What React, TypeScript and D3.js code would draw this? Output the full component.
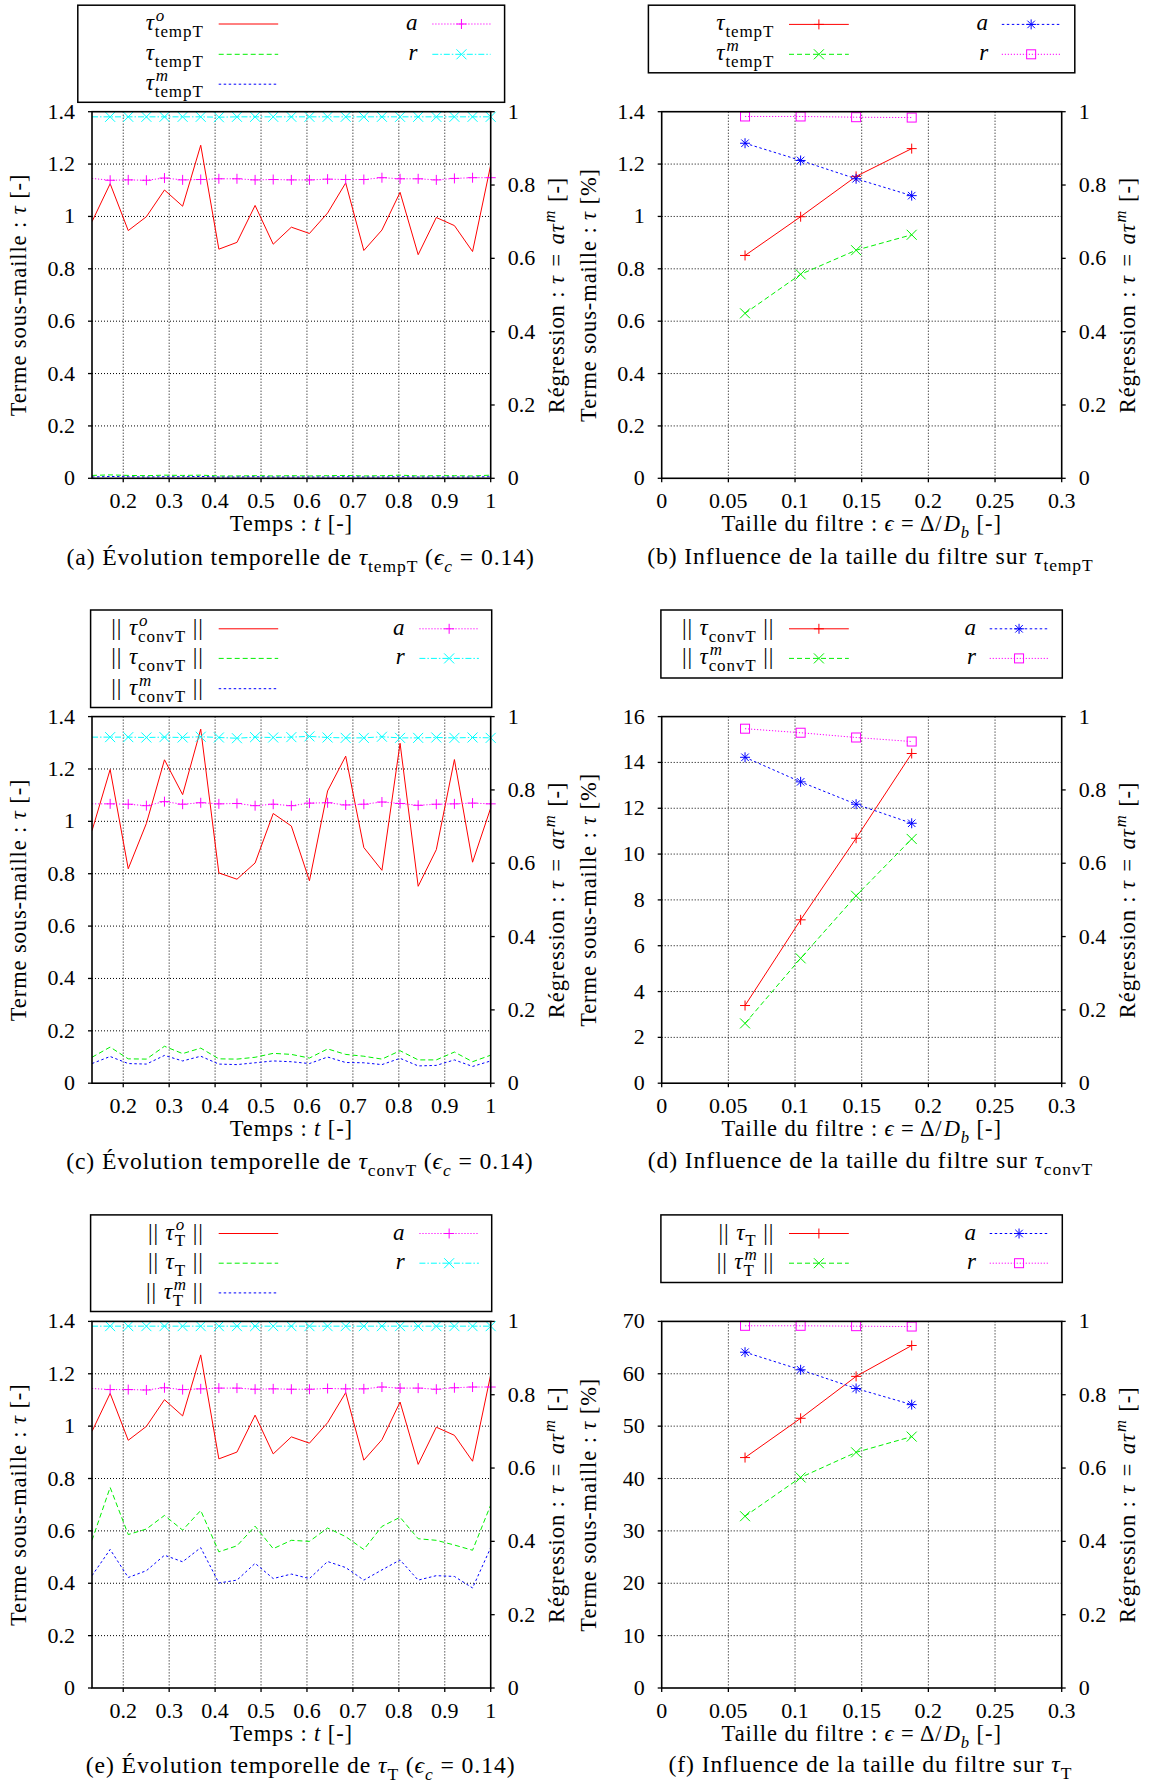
import React from 'react';
import * as d3 from 'd3';

const FONT = '"Liberation Serif","Times New Roman",serif';
const FS_LABEL = 22.5;
const FS_LEG = 23;
const FS_CAP = 23.7;
const FS_TICK = 22;
const SCRIPT = 0.74;
const LS = 0.9;

// ---------------- DATA ----------------
// time axis (panels a, c, e)
const TIME = [0.132, 0.1715, 0.2109, 0.2504, 0.2898, 0.3293, 0.3687, 0.4082, 0.4476, 0.4871, 0.5265, 0.566, 0.6054, 0.6449, 0.6843, 0.7238, 0.7632, 0.8027, 0.8421, 0.8816, 0.921, 0.9605, 1.0];
// panel (a)
const TEMPT_O = [0.98, 1.125, 0.946, 0.999, 1.101, 1.039, 1.272, 0.875, 0.901, 1.042, 0.894, 0.959, 0.935, 1.013, 1.128, 0.87, 0.948, 1.092, 0.854, 0.996, 0.965, 0.866, 1.196];
const TEMPT = [0.011, 0.013, 0.011, 0.01, 0.012, 0.011, 0.012, 0.009, 0.009, 0.01, 0.009, 0.01, 0.009, 0.01, 0.011, 0.009, 0.01, 0.012, 0.009, 0.01, 0.01, 0.009, 0.012];
const TEMPT_M = [0.005, 0.007, 0.006, 0.005, 0.006, 0.006, 0.007, 0.005, 0.005, 0.006, 0.005, 0.005, 0.005, 0.005, 0.006, 0.005, 0.005, 0.006, 0.005, 0.005, 0.005, 0.005, 0.006];
const TEMPT_A = [0.818, 0.813, 0.814, 0.813, 0.819, 0.814, 0.815, 0.817, 0.817, 0.814, 0.815, 0.814, 0.814, 0.816, 0.815, 0.815, 0.82, 0.817, 0.817, 0.814, 0.818, 0.82, 0.82];
const TEMPT_R = [0.986, 0.986, 0.986, 0.986, 0.986, 0.986, 0.986, 0.985, 0.986, 0.986, 0.986, 0.986, 0.986, 0.986, 0.986, 0.986, 0.986, 0.986, 0.986, 0.986, 0.986, 0.986, 0.986];
// panel (c)
const CONVT_O = [0.964, 1.198, 0.819, 0.992, 1.235, 1.102, 1.352, 0.803, 0.779, 0.841, 1.03, 0.982, 0.773, 1.116, 1.249, 0.9, 0.813, 1.298, 0.752, 0.892, 1.236, 0.844, 1.051];
const CONVT = [0.099, 0.138, 0.093, 0.092, 0.141, 0.113, 0.134, 0.093, 0.092, 0.099, 0.114, 0.11, 0.096, 0.131, 0.11, 0.103, 0.092, 0.124, 0.089, 0.089, 0.119, 0.082, 0.107];
const CONVT_M = [0.075, 0.102, 0.075, 0.073, 0.106, 0.085, 0.103, 0.073, 0.071, 0.078, 0.085, 0.082, 0.075, 0.1, 0.079, 0.078, 0.071, 0.095, 0.066, 0.068, 0.089, 0.064, 0.085];
const CONVT_A = [0.762, 0.762, 0.761, 0.757, 0.768, 0.761, 0.765, 0.762, 0.763, 0.757, 0.761, 0.757, 0.764, 0.765, 0.759, 0.761, 0.767, 0.763, 0.758, 0.761, 0.762, 0.764, 0.762];
const CONVT_R = [0.944, 0.944, 0.944, 0.943, 0.944, 0.943, 0.945, 0.943, 0.941, 0.944, 0.943, 0.944, 0.946, 0.943, 0.942, 0.942, 0.945, 0.942, 0.942, 0.943, 0.942, 0.943, 0.942];
// panel (e)
const T_O = [0.98, 1.125, 0.946, 0.999, 1.101, 1.039, 1.272, 0.875, 0.901, 1.042, 0.894, 0.959, 0.935, 1.013, 1.128, 0.87, 0.948, 1.092, 0.854, 0.996, 0.965, 0.866, 1.196];
const T_F = [0.564, 0.766, 0.586, 0.607, 0.659, 0.603, 0.678, 0.52, 0.543, 0.618, 0.532, 0.564, 0.56, 0.611, 0.578, 0.529, 0.617, 0.652, 0.57, 0.564, 0.546, 0.526, 0.699];
const T_M = [0.429, 0.529, 0.422, 0.448, 0.507, 0.482, 0.536, 0.401, 0.412, 0.476, 0.418, 0.435, 0.418, 0.483, 0.46, 0.412, 0.451, 0.489, 0.412, 0.429, 0.426, 0.382, 0.536];
const T_A = [0.817, 0.814, 0.814, 0.813, 0.819, 0.814, 0.816, 0.818, 0.818, 0.815, 0.816, 0.815, 0.815, 0.817, 0.816, 0.816, 0.821, 0.818, 0.818, 0.815, 0.819, 0.821, 0.821];
const T_R = [0.987, 0.987, 0.987, 0.987, 0.987, 0.987, 0.987, 0.987, 0.987, 0.987, 0.987, 0.987, 0.987, 0.987, 0.987, 0.987, 0.987, 0.987, 0.987, 0.987, 0.987, 0.987, 0.987];
// filter-size axis (panels b, d, f)
const EPS = [0.0625, 0.1042, 0.1458, 0.1875];
const B_TAU = [0.851, 0.999, 1.153, 1.259];
const B_TAU_M = [0.63, 0.779, 0.871, 0.93];
const B_A = [0.914, 0.867, 0.817, 0.771];
const B_R = [0.987, 0.987, 0.985, 0.984];
const D_TAU = [3.39, 7.13, 10.69, 14.39];
const D_TAU_M = [2.61, 5.45, 8.18, 10.66];
const D_A = [0.889, 0.822, 0.761, 0.709];
const D_R = [0.967, 0.956, 0.943, 0.932];
const F_TAU = [44.0, 51.5, 59.5, 65.4];
const F_TAU_M = [32.8, 40.2, 45.0, 48.0];
const F_A = [0.916, 0.868, 0.817, 0.773];
const F_R = [0.988, 0.988, 0.987, 0.986];
// ticks
const TIME_TICKS = [0.2, 0.3, 0.4, 0.5, 0.6, 0.7, 0.8, 0.9, 1];
const EPS_TICKS = [0, 0.05, 0.1, 0.15, 0.2, 0.25, 0.3];
const TAU_TICKS = [0, 0.2, 0.4, 0.6, 0.8, 1, 1.2, 1.4];
const D_TICKS = [0, 2, 4, 6, 8, 10, 12, 14, 16];
const F_TICKS = [0, 10, 20, 30, 40, 50, 60, 70];
const R_TICKS = [0, 0.2, 0.4, 0.6, 0.8, 1];

// ---------------- styles ----------------
type MarkerType = 'plus' | 'cross' | 'star' | 'square' | null;
const RED = { color: '#ff0000', dash: undefined as string | undefined };
const GREEN = { color: '#00f000', dash: '5,3' };
const BLUE = { color: '#0000ff', dash: '2.5,2.5' };
const MAGENTA = { color: '#ff00ff', dash: '1.2,1.8' };
const CYAN = { color: '#00ffff', dash: '6,2,1.5,2' };

// ---------------- math text ----------------
type Tok = { t: string; it?: boolean; sub?: string; sup?: string; subIt?: boolean; supIt?: boolean; pad?: number };
let ctx: CanvasRenderingContext2D | null = null;
function tw(s: string, size: number, it?: boolean) {
  if (!ctx) ctx = document.createElement('canvas').getContext('2d');
  if (!ctx) return s.length * size * 0.5;
  ctx.font = `${it ? 'italic ' : ''}${size}px ${FONT}`;
  return ctx.measureText(s).width + LS * Array.from(s).length;
}
function layoutToks(tokens: Tok[], size: number) {
  let x = 0;
  const items: any[] = [];
  const ss = size * SCRIPT;
  for (const tk of tokens) {
    x += tk.pad || 0;
    const w = tk.t ? tw(tk.t, size, tk.it) : 0;
    const item: any = { ...tk, x, sx: x + w };
    x += w;
    const sw = Math.max(tk.sub ? tw(tk.sub, ss, tk.subIt) : 0, tk.sup ? tw(tk.sup, ss, tk.supIt) : 0);
    x += sw;
    items.push(item);
  }
  return { items, width: x };
}
function MathText({ x, y, tokens, size, anchor = 'start' }: { x: number; y: number; tokens: Tok[]; size: number; anchor?: string }) {
  const { items, width } = layoutToks(tokens, size);
  const x0 = anchor === 'end' ? x - width : anchor === 'middle' ? x - width / 2 : x;
  const ss = size * SCRIPT;
  const spans: React.ReactNode[] = [];
  items.forEach((it, i) => {
    if (it.t) spans.push(<tspan key={i + 'b'} x={x0 + it.x} y={y} fontSize={size} fontStyle={it.it ? 'italic' : 'normal'}>{it.t}</tspan>);
    if (it.sub) spans.push(<tspan key={i + 's'} x={x0 + it.sx} y={y + size * 0.3} fontSize={ss} fontStyle={it.subIt ? 'italic' : 'normal'}>{it.sub}</tspan>);
    if (it.sup) spans.push(<tspan key={i + 'p'} x={x0 + it.sx + (it.it ? 1 : 0)} y={y - size * 0.4} fontSize={ss} fontStyle={it.supIt ? 'italic' : 'normal'}>{it.sup}</tspan>);
  });
  return (
    <text fontFamily={FONT} fill="#000" letterSpacing={LS} style={{ whiteSpace: 'pre' }}>{spans}</text>
  );
}

function Marker({ type, x, y, color }: { type: MarkerType; x: number; y: number; color: string }) {
  const s = 5;
  if (!type) return null;
  if (type === 'square') return <rect x={x - 4.5} y={y - 4.5} width={9} height={9} fill="none" stroke={color} strokeWidth={1} />;
  let d = '';
  if (type === 'plus' || type === 'star') d += `M${x - s},${y}H${x + s}M${x},${y - s}V${y + s}`;
  if (type === 'cross' || type === 'star') {
    const c = type === 'star' ? s * 0.75 : s;
    d += `M${x - c},${y - c}L${x + c},${y + c}M${x - c},${y + c}L${x + c},${y - c}`;
  }
  return <path d={d} stroke={color} strokeWidth={1} fill="none" />;
}

// ---------------- panel definition ----------------
type Series = { x: number[]; y: number[]; axis: 'L' | 'R'; style: { color: string; dash?: string }; marker: MarkerType };
type LegEntry = { label: Tok[]; style: { color: string; dash?: string }; marker: MarkerType };
type Legend = { box: number[]; rows: number[]; lEnd: number; lS: number[]; rEnd: number; rS: number[]; left: LegEntry[]; right: LegEntry[] };
type PanelDef = {
  id: string; px: number; py: number; pw: number; ph: number;
  xDomain: [number, number]; xTicks: number[]; yMax: number; yTicks: number[];
  yLabel: Tok[]; xLabel: Tok[]; series: Series[]; legend: Legend; caption: Tok[]; cap: number[];
};

const fmt = (v: number) => String(+v.toFixed(3));

const Y_LABEL_DASH: Tok[] = [{ t: 'Terme sous-maille : ' }, { t: 'τ', it: true }, { t: ' [-]' }];
const Y_LABEL_PCT: Tok[] = [{ t: 'Terme sous-maille : ' }, { t: 'τ', it: true }, { t: ' [%]' }];
const R_LABEL: Tok[] = [{ t: 'Régression : ' }, { t: 'τ', it: true }, { t: ' = ', pad: 2 }, { t: 'aτ', it: true, sup: 'm', supIt: true, pad: 2 }, { t: ' [-]', pad: 2 }];
const X_TIME: Tok[] = [{ t: 'Temps : ' }, { t: 't', it: true }, { t: ' [-]' }];
const X_EPS: Tok[] = [{ t: 'Taille du filtre : ' }, { t: 'ϵ', it: true }, { t: ' = Δ/' }, { t: 'D', it: true, sub: 'b', subIt: true }, { t: ' [-]' }];

const tau = (sub: string, sup?: string): Tok[] => [{ t: 'τ', it: true, sub, sup, supIt: true }];
const ntau = (sub: string, sup?: string): Tok[] => [{ t: '|| ' }, { t: 'τ', it: true, sub, sup, supIt: true }, { t: ' ||' }];
const A_LAB: Tok[] = [{ t: 'a', it: true }];
const R_LAB: Tok[] = [{ t: 'r', it: true }];

const LX = 92, LW = 398.7, RX = 661.7, RW = 400;
const ROWS = [[111.7, 366.6], [716.6, 366.6], [1321.4, 366.6]];

const timeSeries = (o: number[], f: number[], m: number[], a: number[], r: number[]): Series[] => [
  { x: TIME, y: o, axis: 'L', style: RED, marker: null },
  { x: TIME, y: f, axis: 'L', style: GREEN, marker: null },
  { x: TIME, y: m, axis: 'L', style: BLUE, marker: null },
  { x: TIME, y: a, axis: 'R', style: MAGENTA, marker: 'plus' },
  { x: TIME, y: r, axis: 'R', style: CYAN, marker: 'cross' },
];
const epsSeries = (t: number[], m: number[], a: number[], r: number[]): Series[] => [
  { x: EPS, y: t, axis: 'L', style: RED, marker: 'plus' },
  { x: EPS, y: m, axis: 'L', style: GREEN, marker: 'cross' },
  { x: EPS, y: a, axis: 'R', style: BLUE, marker: 'star' },
  { x: EPS, y: r, axis: 'R', style: MAGENTA, marker: 'square' },
];
const timeRight: LegEntry[] = [
  { label: A_LAB, style: MAGENTA, marker: 'plus' },
  { label: R_LAB, style: CYAN, marker: 'cross' },
];
const epsRight: LegEntry[] = [
  { label: A_LAB, style: BLUE, marker: 'star' },
  { label: R_LAB, style: MAGENTA, marker: 'square' },
];

const PANELS: PanelDef[] = [
  {
    id: 'a', px: LX, py: ROWS[0][0], pw: LW, ph: ROWS[0][1], xDomain: [0.132, 1], xTicks: TIME_TICKS, yMax: 1.4, yTicks: TAU_TICKS,
    yLabel: Y_LABEL_DASH, xLabel: X_TIME, series: timeSeries(TEMPT_O, TEMPT, TEMPT_M, TEMPT_A, TEMPT_R),
    legend: {
      box: [77.8, 5.2, 504.6, 102.3], rows: [24, 54.3, 84.2], lEnd: 203.7, lS: [218.7, 278.2], rEnd: 418.3, rS: [432.3, 490.6],
      left: [
        { label: tau('tempT', 'o'), style: RED, marker: null },
        { label: tau('tempT'), style: GREEN, marker: null },
        { label: tau('tempT', 'm'), style: BLUE, marker: null },
      ], right: timeRight,
    },
    caption: [{ t: '(a) Évolution temporelle de ' }, { t: 'τ', it: true, sub: 'tempT' }, { t: ' (' }, { t: 'ϵ', it: true, sub: 'c', subIt: true }, { t: ' = 0.14)' }],
    cap: [300.6, 565],
  },
  {
    id: 'b', px: RX, py: ROWS[0][0], pw: RW, ph: ROWS[0][1], xDomain: [0, 0.3], xTicks: EPS_TICKS, yMax: 1.4, yTicks: TAU_TICKS,
    yLabel: Y_LABEL_PCT, xLabel: X_EPS, series: epsSeries(B_TAU, B_TAU_M, B_A, B_R),
    legend: {
      box: [648.4, 5.2, 1074.8, 72.8], rows: [24.4, 54.3], lEnd: 774.3, lS: [789, 848.8], rEnd: 989, rS: [1001.8, 1060.5],
      left: [
        { label: tau('tempT'), style: RED, marker: 'plus' },
        { label: tau('tempT', 'm'), style: GREEN, marker: 'cross' },
      ], right: epsRight,
    },
    caption: [{ t: '(b) Influence de la taille du filtre sur ' }, { t: 'τ', it: true, sub: 'tempT' }],
    cap: [870.4, 564],
  },
  {
    id: 'c', px: LX, py: ROWS[1][0], pw: LW, ph: ROWS[1][1], xDomain: [0.132, 1], xTicks: TIME_TICKS, yMax: 1.4, yTicks: TAU_TICKS,
    yLabel: Y_LABEL_DASH, xLabel: X_TIME, series: timeSeries(CONVT_O, CONVT, CONVT_M, CONVT_A, CONVT_R),
    legend: {
      box: [90.6, 610, 491.7, 707.5], rows: [628.8, 658.4, 688.7], lEnd: 203.7, lS: [218.7, 278.2], rEnd: 405.5, rS: [419.4, 478.9],
      left: [
        { label: ntau('convT', 'o'), style: RED, marker: null },
        { label: ntau('convT'), style: GREEN, marker: null },
        { label: ntau('convT', 'm'), style: BLUE, marker: null },
      ], right: timeRight,
    },
    caption: [{ t: '(c) Évolution temporelle de ' }, { t: 'τ', it: true, sub: 'convT' }, { t: ' (' }, { t: 'ϵ', it: true, sub: 'c', subIt: true }, { t: ' = 0.14)' }],
    cap: [299.8, 1169],
  },
  {
    id: 'd', px: RX, py: ROWS[1][0], pw: RW, ph: ROWS[1][1], xDomain: [0, 0.3], xTicks: EPS_TICKS, yMax: 16, yTicks: D_TICKS,
    yLabel: Y_LABEL_PCT, xLabel: X_EPS, series: epsSeries(D_TAU, D_TAU_M, D_A, D_R),
    legend: {
      box: [660.9, 610, 1062.3, 678], rows: [628.8, 658.4], lEnd: 774.3, lS: [789, 848.8], rEnd: 976.8, rS: [989.7, 1048.4],
      left: [
        { label: ntau('convT'), style: RED, marker: 'plus' },
        { label: ntau('convT', 'm'), style: GREEN, marker: 'cross' },
      ], right: epsRight,
    },
    caption: [{ t: '(d) Influence de la taille du filtre sur ' }, { t: 'τ', it: true, sub: 'convT' }],
    cap: [870.4, 1168],
  },
  {
    id: 'e', px: LX, py: ROWS[2][0], pw: LW, ph: ROWS[2][1], xDomain: [0.132, 1], xTicks: TIME_TICKS, yMax: 1.4, yTicks: TAU_TICKS,
    yLabel: Y_LABEL_DASH, xLabel: X_TIME, series: timeSeries(T_O, T_F, T_M, T_A, T_R),
    legend: {
      box: [90.6, 1214.9, 491.7, 1311.5], rows: [1233.5, 1263.2, 1292.9], lEnd: 203.7, lS: [218.7, 278.2], rEnd: 405.5, rS: [419.4, 478.9],
      left: [
        { label: ntau('T', 'o'), style: RED, marker: null },
        { label: ntau('T'), style: GREEN, marker: null },
        { label: ntau('T', 'm'), style: BLUE, marker: null },
      ], right: timeRight,
    },
    caption: [{ t: '(e) Évolution temporelle de ' }, { t: 'τ', it: true, sub: 'T' }, { t: ' (' }, { t: 'ϵ', it: true, sub: 'c', subIt: true }, { t: ' = 0.14)' }],
    cap: [300.6, 1773],
  },
  {
    id: 'f', px: RX, py: ROWS[2][0], pw: RW, ph: ROWS[2][1], xDomain: [0, 0.3], xTicks: EPS_TICKS, yMax: 70, yTicks: F_TICKS,
    yLabel: Y_LABEL_PCT, xLabel: X_EPS, series: epsSeries(F_TAU, F_TAU_M, F_A, F_R),
    legend: {
      box: [660.9, 1214.9, 1062.3, 1282.5], rows: [1233.5, 1263.2], lEnd: 774.3, lS: [789, 848.8], rEnd: 976.8, rS: [989.7, 1048.4],
      left: [
        { label: ntau('T'), style: RED, marker: 'plus' },
        { label: ntau('T', 'm'), style: GREEN, marker: 'cross' },
      ], right: epsRight,
    },
    caption: [{ t: '(f) Influence de la taille du filtre sur ' }, { t: 'τ', it: true, sub: 'T' }],
    cap: [870.4, 1772],
  },
];

function LegendView({ L }: { L: Legend }) {
  const entry = (e: LegEntry, row: number, textEnd: number, s: number[], key: string) => (
    <g key={key}>
      <MathText x={textEnd} y={row + 6} tokens={e.label} anchor="end" size={FS_LEG} />
      <line x1={s[0]} x2={s[1]} y1={row} y2={row} stroke={e.style.color} strokeWidth={1} strokeDasharray={e.style.dash} />
      <Marker type={e.marker} x={(s[0] + s[1]) / 2} y={row} color={e.style.color} />
    </g>
  );
  return (
    <g>
      <rect x={L.box[0]} y={L.box[1]} width={L.box[2] - L.box[0]} height={L.box[3] - L.box[1]} fill="#fff" stroke="#000" strokeWidth={1.5} />
      {L.left.map((e, i) => entry(e, L.rows[i], L.lEnd, L.lS, 'l' + i))}
      {L.right.map((e, i) => entry(e, L.rows[i], L.rEnd, L.rS, 'r' + i))}
    </g>
  );
}

function Panel({ P }: { P: PanelDef }) {
  const x = d3.scaleLinear().domain(P.xDomain).range([P.px, P.px + P.pw]);
  const yL = d3.scaleLinear().domain([0, P.yMax]).range([P.py + P.ph, P.py]);
  const yR = d3.scaleLinear().domain([0, 1]).range([P.py + P.ph, P.py]);
  const bottom = P.py + P.ph, right = P.px + P.pw;
  const clipId = 'clip-' + P.id;
  const gridX = P.xTicks.filter((t) => x(t) > P.px + 1 && x(t) < right - 1);
  const gridY = P.yTicks.filter((t) => t > 0 && t < P.yMax);
  return (
    <g>
      <defs>
        <clipPath id={clipId}><rect x={P.px} y={P.py} width={P.pw} height={P.ph} /></clipPath>
      </defs>
      <g stroke="#000" strokeWidth={1} strokeDasharray="1,2">
        {gridX.map((t) => <line key={'gx' + t} x1={x(t)} x2={x(t)} y1={P.py} y2={bottom} />)}
        {gridY.map((t) => <line key={'gy' + t} x1={P.px} x2={right} y1={yL(t)} y2={yL(t)} />)}
      </g>
      <g clipPath={`url(#${clipId})`}>
        {P.series.map((s, i) => {
          const ys = s.axis === 'L' ? yL : yR;
          const line = d3.line<number>().x((_, j) => x(s.x[j])).y((v) => ys(v));
          return <path key={i} d={line(s.y) || ''} fill="none" stroke={s.style.color} strokeWidth={1} strokeDasharray={s.style.dash} />;
        })}
      </g>
      {P.series.map((s, i) => {
        const ys = s.axis === 'L' ? yL : yR;
        return (
          <g key={'m' + i}>
            {s.y.map((v, j) => (s.x[j] > P.xDomain[0] + 1e-6 ? <Marker key={j} type={s.marker} x={x(s.x[j])} y={ys(v)} color={s.style.color} /> : null))}
          </g>
        );
      })}
      <rect x={P.px} y={P.py} width={P.pw} height={P.ph} fill="none" stroke="#000" strokeWidth={1.6} />
      <g stroke="#000" strokeWidth={1.3}>
        {P.xTicks.map((t) => <line key={'tx' + t} x1={x(t)} x2={x(t)} y1={bottom} y2={bottom + 4} />)}
        {P.yTicks.map((t) => <line key={'ty' + t} x1={P.px - 4} x2={P.px} y1={yL(t)} y2={yL(t)} />)}
        {R_TICKS.map((t) => <line key={'tr' + t} x1={right} x2={right + 4} y1={yR(t)} y2={yR(t)} />)}
      </g>
      <g fontFamily={FONT} fontSize={FS_TICK} fill="#000">
        {P.xTicks.map((t) => <text key={'lx' + t} x={x(t)} y={bottom + 30} textAnchor="middle">{fmt(t)}</text>)}
        {P.yTicks.map((t) => <text key={'ly' + t} x={P.px - 17} y={yL(t) + 7} textAnchor="end">{fmt(t)}</text>)}
        {R_TICKS.map((t) => <text key={'lr' + t} x={right + 17} y={yR(t) + 7} textAnchor="start">{fmt(t)}</text>)}
      </g>
      <MathText x={P.px + P.pw / 2} y={bottom + 53} tokens={P.xLabel} anchor="middle" size={FS_LABEL} />
      <g transform={`translate(${P.px - 66},${P.py + P.ph / 2}) rotate(-90)`}>
        <MathText x={0} y={0} tokens={P.yLabel} anchor="middle" size={FS_LABEL} />
      </g>
      <g transform={`translate(${right + 73},${P.py + P.ph / 2}) rotate(-90)`}>
        <MathText x={0} y={0} tokens={R_LABEL} anchor="middle" size={FS_LABEL} />
      </g>
      <LegendView L={P.legend} />
      <MathText x={P.cap[0]} y={P.cap[1]} tokens={P.caption} anchor="middle" size={FS_CAP} />
    </g>
  );
}

export default function App() {
  return (
    <svg width={1150} height={1784} viewBox="0 0 1150 1784" style={{ position: 'absolute', left: 0, top: 0, background: '#fff', display: 'block' }}>
      <rect x={0} y={0} width={1150} height={1784} fill="#fff" />
      {PANELS.map((P) => <Panel key={P.id} P={P} />)}
    </svg>
  );
}
